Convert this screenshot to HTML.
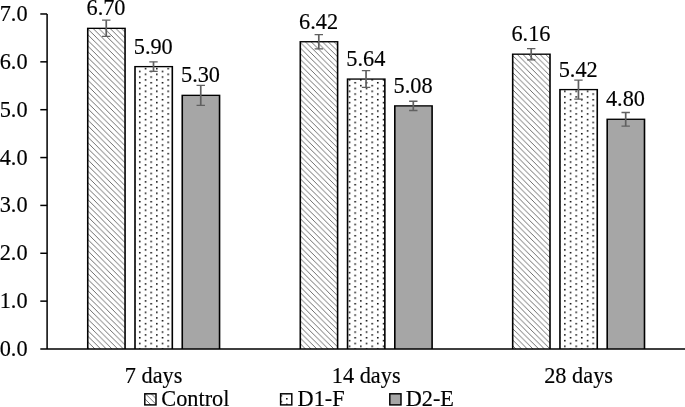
<!DOCTYPE html>
<html><head><meta charset="utf-8"><title>chart</title>
<style>
html,body{margin:0;padding:0;background:#fff;}
svg{display:block;will-change:transform;opacity:0.999}
text{font-family:"Liberation Serif",serif;font-size:22.3px;fill:#000;stroke:#000;stroke-width:0.15px}
</style></head><body>
<svg width="685" height="407" viewBox="0 0 685 407">
<defs>
<pattern id="hatch" patternUnits="userSpaceOnUse" x="2.0" y="0" width="5.689" height="5.689">
<rect width="5.689" height="5.689" fill="#fff"/>
<path d="M-5.689,-5.689 L11.378,11.378 M0,-5.689 L11.378,5.689 M-5.689,0 L5.689,11.378" stroke="#404040" stroke-width="0.75" fill="none"/>
</pattern>
<pattern id="dots" patternUnits="userSpaceOnUse" x="144.750" y="101.850" width="11.334" height="5.667">
<rect width="11.334" height="5.667" fill="#fff"/>
<rect x="0" y="0" width="1.5" height="1.5" fill="#000"/>
<rect x="5.634" y="2.800" width="1.5" height="1.5" fill="#000"/>
</pattern>
<pattern id="dots2" patternUnits="userSpaceOnUse" x="286.090" y="397.980" width="11.334" height="5.667">
<rect width="11.334" height="5.667" fill="#fff"/>
<rect x="0" y="0" width="1.5" height="1.5" fill="#000"/>
<rect x="5.667" y="2.833" width="1.5" height="1.5" fill="#000"/>
</pattern>
</defs>
<rect width="685" height="407" fill="#fff"/>

<rect x="86.95" y="27.66" width="38.90" height="321.34" fill="#000"/>
<rect x="88.55" y="29.01" width="35.70" height="319.99" fill="url(#hatch)"/>
<path d="M106.25,20.20 V36.47" stroke="#606060" stroke-width="1.7" fill="none"/>
<path d="M102.05,20.20 H110.45 M102.05,36.47 H110.45" stroke="#606060" stroke-width="1.3" fill="none"/>
<text x="106.00" y="15.34" text-anchor="middle">6.70</text>
<rect x="134.20" y="65.95" width="38.90" height="283.05" fill="#000"/>
<rect x="135.80" y="67.30" width="35.70" height="281.70" fill="url(#dots)"/>
<path d="M153.50,61.84 V71.41" stroke="#606060" stroke-width="1.7" fill="none"/>
<path d="M149.30,61.84 H157.70 M149.30,71.41 H157.70" stroke="#606060" stroke-width="1.3" fill="none"/>
<text x="153.25" y="53.63" text-anchor="middle">5.90</text>
<rect x="181.45" y="94.67" width="38.90" height="254.33" fill="#000"/>
<rect x="183.05" y="96.02" width="35.70" height="252.98" fill="#a6a6a6"/>
<path d="M200.75,85.29 V105.39" stroke="#606060" stroke-width="1.7" fill="none"/>
<path d="M196.55,85.29 H204.95 M196.55,105.39 H204.95" stroke="#606060" stroke-width="1.3" fill="none"/>
<text x="200.50" y="82.34" text-anchor="middle">5.30</text>
<rect x="299.50" y="41.06" width="38.90" height="307.94" fill="#000"/>
<rect x="301.10" y="42.41" width="35.70" height="306.59" fill="url(#hatch)"/>
<path d="M318.80,34.56 V48.92" stroke="#606060" stroke-width="1.7" fill="none"/>
<path d="M314.60,34.56 H323.00 M314.60,48.92 H323.00" stroke="#606060" stroke-width="1.3" fill="none"/>
<text x="318.55" y="28.74" text-anchor="middle">6.42</text>
<rect x="346.75" y="78.39" width="38.90" height="270.61" fill="#000"/>
<rect x="348.35" y="79.74" width="35.70" height="269.26" fill="url(#dots)"/>
<path d="M366.05,70.69 V87.45" stroke="#606060" stroke-width="1.7" fill="none"/>
<path d="M361.85,70.69 H370.25 M361.85,87.45 H370.25" stroke="#606060" stroke-width="1.3" fill="none"/>
<text x="365.80" y="66.07" text-anchor="middle">5.64</text>
<rect x="394.00" y="105.20" width="38.90" height="243.80" fill="#000"/>
<rect x="395.60" y="106.55" width="35.70" height="242.45" fill="#a6a6a6"/>
<path d="M413.30,101.23 V110.51" stroke="#606060" stroke-width="1.7" fill="none"/>
<path d="M409.10,101.23 H417.50 M409.10,110.51 H417.50" stroke="#606060" stroke-width="1.3" fill="none"/>
<text x="413.05" y="92.87" text-anchor="middle">5.08</text>
<rect x="511.90" y="53.51" width="38.90" height="295.49" fill="#000"/>
<rect x="513.50" y="54.86" width="35.70" height="294.14" fill="url(#hatch)"/>
<path d="M531.20,48.58 V59.78" stroke="#606060" stroke-width="1.7" fill="none"/>
<path d="M527.00,48.58 H535.40 M527.00,59.78 H535.40" stroke="#606060" stroke-width="1.3" fill="none"/>
<text x="530.95" y="41.18" text-anchor="middle">6.16</text>
<rect x="559.15" y="88.92" width="38.90" height="260.08" fill="#000"/>
<rect x="560.75" y="90.27" width="35.70" height="258.73" fill="url(#dots)"/>
<path d="M578.45,80.03 V99.17" stroke="#606060" stroke-width="1.7" fill="none"/>
<path d="M574.25,80.03 H582.65 M574.25,99.17 H582.65" stroke="#606060" stroke-width="1.3" fill="none"/>
<text x="578.20" y="76.60" text-anchor="middle">5.42</text>
<rect x="606.40" y="118.60" width="38.90" height="230.40" fill="#000"/>
<rect x="608.00" y="119.95" width="35.70" height="229.05" fill="#a6a6a6"/>
<path d="M625.70,112.48 V126.07" stroke="#606060" stroke-width="1.7" fill="none"/>
<path d="M621.50,112.48 H629.90 M621.50,126.07 H629.90" stroke="#606060" stroke-width="1.3" fill="none"/>
<text x="625.45" y="106.27" text-anchor="middle">4.80</text>
<path d="M47.1,13.98 V349.0 M40.3,349.0 H685" stroke="#000" stroke-width="1.5" fill="none"/>
<path d="M40.3,301.14 H47.1" stroke="#000" stroke-width="1.5" fill="none"/>
<path d="M40.3,253.28 H47.1" stroke="#000" stroke-width="1.5" fill="none"/>
<path d="M40.3,205.42 H47.1" stroke="#000" stroke-width="1.5" fill="none"/>
<path d="M40.3,157.56 H47.1" stroke="#000" stroke-width="1.5" fill="none"/>
<path d="M40.3,109.70 H47.1" stroke="#000" stroke-width="1.5" fill="none"/>
<path d="M40.3,61.84 H47.1" stroke="#000" stroke-width="1.5" fill="none"/>
<path d="M40.3,13.98 H47.1" stroke="#000" stroke-width="1.5" fill="none"/>
<text x="-0.3" y="356.00">0.0</text>
<text x="-0.3" y="308.14">1.0</text>
<text x="-0.3" y="260.28">2.0</text>
<text x="-0.3" y="212.42">3.0</text>
<text x="-0.3" y="164.56">4.0</text>
<text x="-0.3" y="116.70">5.0</text>
<text x="-0.3" y="68.84">6.0</text>
<text x="-0.3" y="20.98">7.0</text>
<text x="153.65" y="382.6" text-anchor="middle">7 days</text>
<text x="366.20" y="382.6" text-anchor="middle">14 days</text>
<text x="578.60" y="382.6" text-anchor="middle">28 days</text>
<rect x="144.80" y="393.8" width="11.2" height="11.1" fill="url(#hatch)" stroke="#000" stroke-width="1.45"/>
<text x="161.30" y="405.6">Control</text>
<rect x="280.60" y="393.8" width="11.2" height="11.1" fill="url(#dots2)" stroke="#000" stroke-width="1.45"/>
<text x="297.60" y="405.6">D1-F</text>
<rect x="389.80" y="393.8" width="11.2" height="11.1" fill="#a6a6a6" stroke="#000" stroke-width="1.45"/>
<text x="405.70" y="405.6">D2-E</text>
</svg></body></html>
